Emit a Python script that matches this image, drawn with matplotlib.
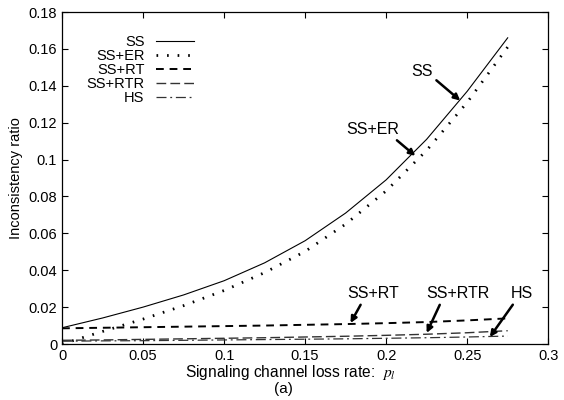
import matplotlib.pyplot as plt

plt.rcParams['font.family'] = ['Liberation Sans', 'DejaVu Sans']
plt.rcParams['mathtext.fontset'] = 'stix'

# loss rate and inconsistency ratio of each scheme
loss_rate = [0, 0.025, 0.05, 0.075, 0.1, 0.125, 0.15, 0.175, 0.2, 0.225, 0.25, 0.275]
ss = [0.0088, 0.0141, 0.0200, 0.0266, 0.0343, 0.0440, 0.0560, 0.0710, 0.0890, 0.1110, 0.1370, 0.1660]
ss_er = [0.0, 0.0068, 0.0135, 0.0208, 0.0290, 0.0387, 0.0502, 0.0650, 0.0830, 0.1050, 0.1310, 0.1610]
ss_rt = [0.0085, 0.0088, 0.0091, 0.0094, 0.0097, 0.0100, 0.0104, 0.0108, 0.0113, 0.0119, 0.0128, 0.0139]
ss_rtr = [0.0020, 0.0022, 0.0025, 0.0028, 0.0031, 0.0034, 0.0038, 0.0042, 0.0047, 0.0053, 0.0061, 0.0072]
hs = [0.0015, 0.0017, 0.0018, 0.0020, 0.0022, 0.0024, 0.0026, 0.0028, 0.0031, 0.0034, 0.0038, 0.0043]

x_ticks = [0, 0.05, 0.1, 0.15, 0.2, 0.25, 0.3]
x_labels = ['0', '0.05', '0.1', '0.15', '0.2', '0.25', '0.3']
y_ticks = [0, 0.02, 0.04, 0.06, 0.08, 0.1, 0.12, 0.14, 0.16, 0.18]
y_labels = ['0', '0.02', '0.04', '0.06', '0.08', '0.1', '0.12', '0.14', '0.16', '0.18']

fig = plt.figure(figsize=(5.64, 4.0), dpi=100)
ax = fig.add_axes([0.110, 0.14, 0.862, 0.83])

ax.plot(loss_rate, ss, color='black', lw=0.8, label='SS')
ax.plot(loss_rate, ss_er, color='black', lw=2.0, ls=(0, (0.6, 3.2)), label='SS+ER')
ax.plot(loss_rate, ss_rt, color='black', lw=1.4, ls=(0, (4, 3)), label='SS+RT')
ax.plot(loss_rate, ss_rtr, color='#333333', lw=1.0, ls=(0, (7, 3)), label='SS+RTR')
ax.plot(loss_rate, hs, color='#333333', lw=0.9, ls=(0, (8, 3, 1.5, 3)), label='HS')


def pointer(label, tip, where, rel):
    ax.annotate(label, xy=tip, xytext=where, ha='center', va='center', fontsize=11.5,
                arrowprops=dict(arrowstyle='-|>', color='black', lw=1.8, mutation_scale=9,
                                shrinkA=1, shrinkB=0, relpos=rel))


# arrows pointing at each curve
pointer('SS', (0.2457, 0.132), (0.222, 0.148), (1.0, 0.1))
pointer('SS+ER', (0.218, 0.102), (0.192, 0.1165), (0.85, 0.05))
pointer('SS+RT', (0.178, 0.0114), (0.192, 0.0275), (0.3, 0.0))
pointer('SS+RTR', (0.225, 0.006), (0.244, 0.0275), (0.25, 0.0))
pointer('HS', (0.264, 0.0038), (0.284, 0.0275), (0.2, 0.0))

ax.set_xlim(0, 0.3)
ax.set_ylim(0, 0.18)
ax.set_xticks(x_ticks)
ax.set_xticklabels(x_labels)
ax.set_yticks(y_ticks)
ax.set_yticklabels(y_labels)
ax.tick_params(direction='in', top=True, right=True, labelsize=10.5, length=4, width=0.8)
for s in ax.spines.values():
    s.set_linewidth(0.9)

ax.set_ylabel('Inconsistency ratio', fontsize=10.5)
fig.text(291 / 564, 1 - 372 / 400, 'Signaling channel loss rate:  $p_l$', fontsize=11.2,
         ha='center', va='center')
fig.text(283 / 564, 1 - 389 / 400, '(a)', fontsize=11, ha='center', va='center')

leg = ax.legend(loc='upper left', frameon=False, markerfirst=False, fontsize=10.5,
                handlelength=2.6, labelspacing=0.0, borderaxespad=0.6,
                bbox_to_anchor=(0.02, 0.975))
for t in leg.get_texts():
    t.set_ha('right')

fig.savefig('out.png', dpi=100)
